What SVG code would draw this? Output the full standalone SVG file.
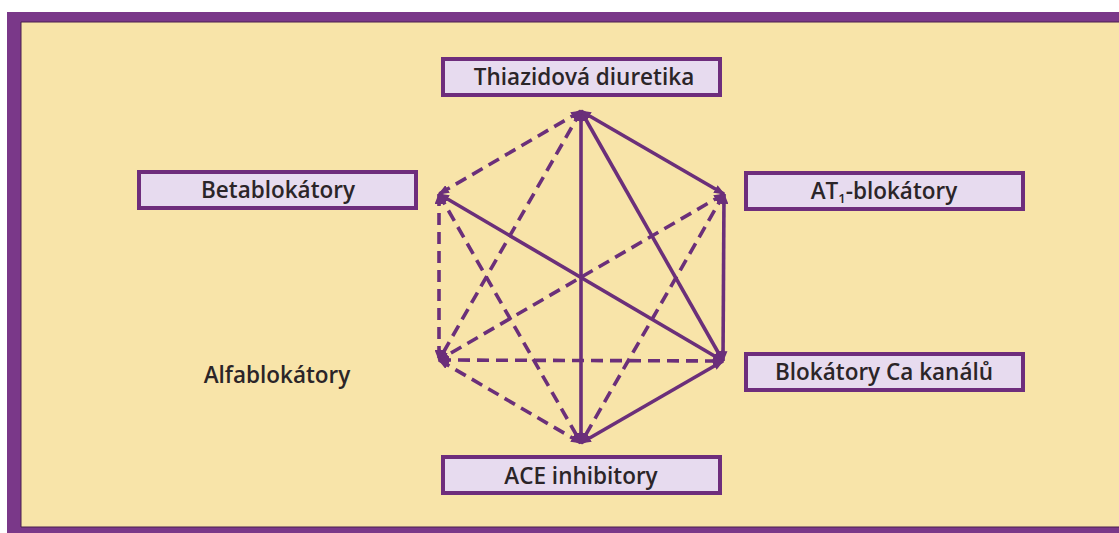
<svg xmlns="http://www.w3.org/2000/svg" width="1119" height="533" viewBox="0 0 1119 533">
<style>
.node rect{fill:#e7dbef;stroke:#6e2d7c;stroke-width:4}
.lbl{font-family:"Open Sans","Liberation Sans",sans-serif;font-weight:600;font-size:22.5px;fill:#2b2528;text-anchor:middle}
.c{stroke:#6b2f7a;stroke-width:3.6;fill:none;marker-start:url(#ah);marker-end:url(#ah)}
.d{stroke-dasharray:12 7}
</style>
<defs>
<marker id="ah" viewBox="0 0 10 8" refX="9" refY="4" markerWidth="11" markerHeight="9" markerUnits="userSpaceOnUse" orient="auto-start-reverse">
<path d="M0,0 L10,4 L0,8 Z" fill="#6b2f7a"/>
</marker>
</defs>
<rect x="0" y="0" width="1119" height="533" fill="#ffffff"/>
<g id="frame">
<rect x="7" y="12" width="1112" height="521" fill="#7a3889"/>
<rect x="21" y="22" width="1100" height="505" fill="#f8e4a9"/>
<path d="M21,527 V22 H1119 M21,527 H1119" fill="none" stroke="#4a1f4f" stroke-width="1"/>
</g>
<g id="connectors">
<line class="c" x1="581" y1="111" x2="581" y2="443"/>
<line class="c" x1="581" y1="111" x2="723" y2="361"/>
<line class="c" x1="581" y1="111" x2="724" y2="194"/>
<line class="c" x1="439" y1="194" x2="723" y2="361"/>
<line class="c" x1="724" y1="194" x2="723" y2="361"/>
<line class="c" x1="723" y1="361" x2="581" y2="443"/>
<line class="c d" x1="581" y1="111" x2="439" y2="194"/>
<line class="c d" x1="581" y1="111" x2="439" y2="360"/>
<line class="c d" x1="439" y1="194" x2="439" y2="360"/>
<line class="c d" x1="439" y1="194" x2="581" y2="443"/>
<line class="c d" x1="724" y1="194" x2="439" y2="360"/>
<line class="c d" x1="724" y1="194" x2="581" y2="443"/>
<line class="c d" x1="439" y1="360" x2="723" y2="361"/>
<line class="c d" x1="439" y1="360" x2="581" y2="443"/>
</g>
<g id="thiazid" class="node"><rect x="443" y="59" width="277" height="36"/><text class="lbl" x="584" y="85">Thiazidová diuretika</text></g>
<g id="beta" class="node"><rect x="139" y="172" width="277" height="36"/><text class="lbl" x="278" y="198">Betablokátory</text></g>
<g id="at1" class="node"><rect x="746" y="173" width="277" height="36"/><text class="lbl" x="884" y="199">AT<tspan font-size="13" dy="4">1</tspan><tspan dy="-4">-blokátory</tspan></text></g>
<g id="alfa"><text class="lbl" x="277" y="383">Alfablokátory</text></g>
<g id="ca" class="node"><rect x="746" y="354" width="277" height="36"/><text class="lbl" x="884" y="380">Blokátory Ca kanálů</text></g>
<g id="ace" class="node"><rect x="443" y="457" width="277" height="36"/><text class="lbl" x="581" y="484">ACE inhibitory</text></g>
</svg>
